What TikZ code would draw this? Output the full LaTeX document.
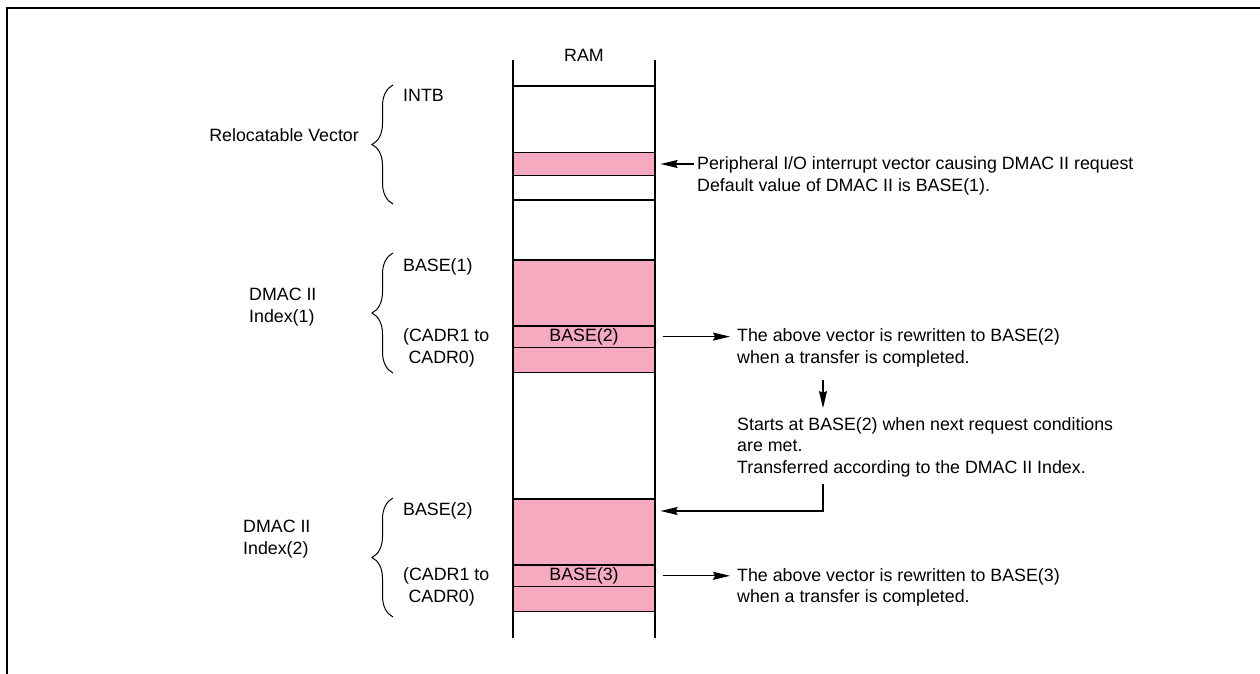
\documentclass[tikz,border=0pt]{standalone}
\usepackage{fontspec}
\setmainfont{Liberation Sans}
\usetikzlibrary{arrows.meta,decorations.pathreplacing}
\definecolor{ramPink}{RGB}{246,170,192}

\begin{document}
\begin{tikzpicture}[x=1pt,y=-1pt,>={Stealth[length=17pt,width=8pt,inset=2pt]},
  font=\fontsize{17.8}{21.5}\selectfont,
  cell/.style={draw,fill=ramPink,line width=1.2pt,minimum width=142pt,inner sep=0pt},
  lbl/.style={anchor=west,inner sep=3pt},
  note/.style={anchor=west,align=left,inner sep=3pt},
  brc/.style={decorate,decoration={brace,amplitude=21pt},line width=1pt},
  arr/.style={->,line width=1.2pt}]
\useasboundingbox (0,0) rectangle (1260,674);
\draw[line width=2pt] (1260,8) -- (7,8) -- (7,674);
\node[cell,minimum height=22.6pt] (vec) at (584,164) {};
\node[cell,minimum height=66pt] (idxA) at (584,293) {};
\node[cell,minimum height=21.3pt] (baseB) at (584,336.6) {BASE(2)};
\node[cell,minimum height=25pt] (idxAend) at (584,359.8) {};
\node[cell,minimum height=66pt] (idxB) at (584,532) {};
\node[cell,minimum height=21.7pt] (baseC) at (584,575.8) {BASE(3)};
\node[cell,minimum height=25pt] (idxBend) at (584,599.2) {};
\draw[line width=1.2pt] (513,86) -- (655,86) (513,200) -- (655,200);
\draw[line width=1.5pt] (513,60) -- (513,638) (655,60) -- (655,638);
\node (ram) at (584,55) {RAM};
\node[lbl] (intb) at (400,95) {INTB};
\node[lbl] (baseAlbl) at (400,267) {BASE(1)};
\node[note] (cadrA) at (400,348) {(CADR1 to\\\hspace*{0.3em}CADR0)};
\node[lbl] (baseBlbl) at (400,511) {BASE(2)};
\node[note] (cadrB) at (400,587) {(CADR1 to\\\hspace*{0.3em}CADR0)};
\node[anchor=east,inner sep=3pt] (relvec) at (362,135) {Relocatable Vector};
\node[note] (dmacA) at (246,307) {DMAC II\\Index(1)};
\node[note] (dmacB) at (240,539) {DMAC II\\Index(2)};
\draw[brc] (393,204) -- (393,85);
\draw[brc] (393,373) -- (393,253);
\draw[brc] (393,617) -- (393,498);
\node[note] (noteA) at (694,176) {Peripheral I/O interrupt vector causing DMAC II request\\Default value of DMAC II is BASE(1).};
\node[note] (noteB) at (734,348) {The above vector is rewritten to BASE(2)\\when a transfer is completed.};
\node[note] (noteC) at (734,447) {Starts at BASE(2) when next request conditions\\are met.\\Transferred according to the DMAC II Index.};
\node[note] (noteD) at (734,587.5) {The above vector is rewritten to BASE(3)\\when a transfer is completed.};
\coordinate (flowX) at (823,0);
\draw[arr] (noteA.west |- vec.east) -- ([xshift=5pt]vec.east);
\draw[arr,shorten >=4pt] ([xshift=7pt]baseB.east) -- (noteB.west |- baseB.east);
\draw[arr,shorten <=10pt,shorten >=6pt] (noteB.south -| flowX) -- (noteC.north -| flowX);
\draw[arr,shorten <=4pt] (noteC.south -| flowX) |- ([xshift=5pt]baseBlbl -| idxB.east);
\draw[arr,shorten >=4pt] ([xshift=7pt]baseC.east) -- (noteD.west |- baseC.east);
\end{tikzpicture}
\end{document}
